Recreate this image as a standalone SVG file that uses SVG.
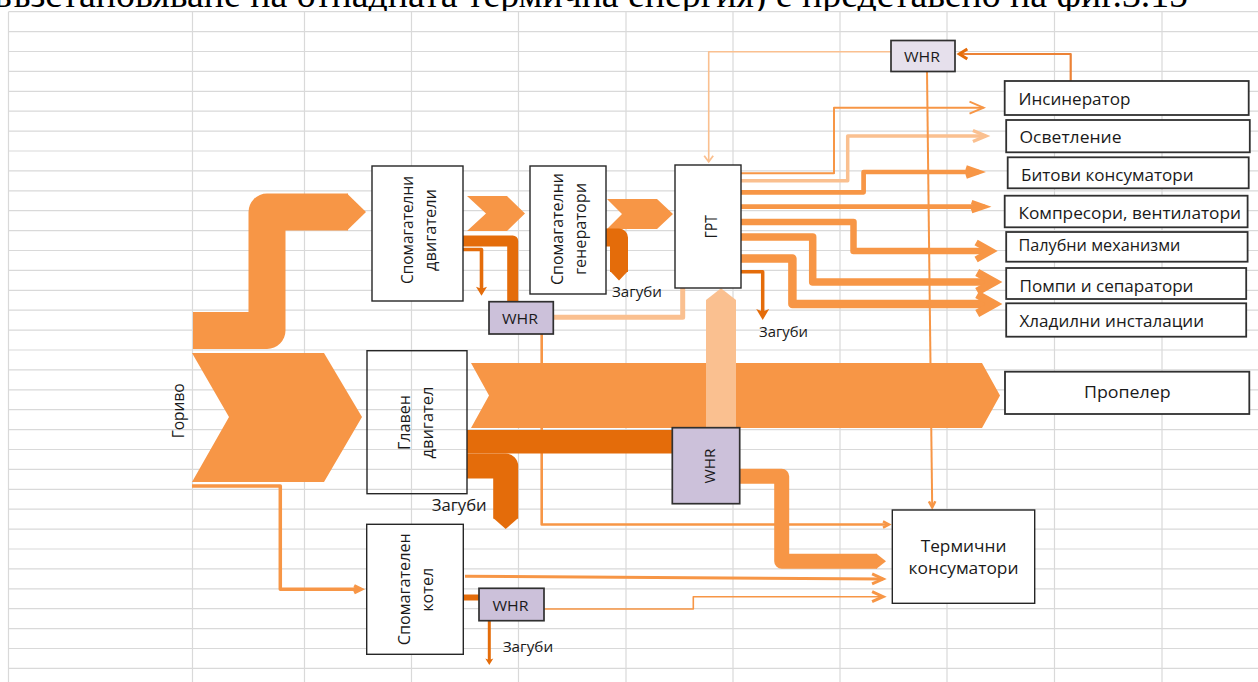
<svg xmlns="http://www.w3.org/2000/svg" width="1258" height="682" viewBox="0 0 1258 682">
<defs>
<style>
.grid{fill:none;stroke:#D9D9D9;stroke-width:1.2}
.box{fill:#FFFFFF;stroke:#262626;stroke-width:1.4}
.rbox{fill:#FFFFFF;stroke:#303030;stroke-width:1.8}
.whr{fill:#CCC1DA;stroke:#303030;stroke-width:1.7}
.lbl{font-family:'Open Sans','Noto Sans','DejaVu Sans',sans-serif;fill:#1A1A1A}
.s16{font-size:16px}
.s17{font-size:17px}
.s15{font-size:15px}
.fo{fill:#F79646}
.fd{fill:#E46C0A}
.fl{fill:#FAC090}
.lo{fill:none;stroke:#F79646;stroke-linejoin:round}
.ld{fill:none;stroke:#E46C0A;stroke-linejoin:round}
.ll{fill:none;stroke:#FAC090;stroke-linejoin:round}
</style>
<marker id="vO2" markerUnits="userSpaceOnUse" viewBox="-30 -20 40 40" markerWidth="40" markerHeight="40" refX="0" refY="0" orient="auto" overflow="visible"><path d="M-14,-6 L0,0 L-14,6" fill="none" stroke="#F79646" stroke-width="2"/></marker>
<marker id="vL3" markerUnits="userSpaceOnUse" viewBox="-30 -20 40 40" markerWidth="40" markerHeight="40" refX="0" refY="0" orient="auto" overflow="visible"><path d="M-13,-5.5 L0,0 L-13,5.5" fill="none" stroke="#FAC090" stroke-width="3.5"/></marker>
<marker id="vO5" markerUnits="userSpaceOnUse" viewBox="-30 -20 40 40" markerWidth="40" markerHeight="40" refX="0" refY="0" orient="auto" overflow="visible"><path d="M-13,-4.5 L0,0 L-13,4.5" fill="none" stroke="#F79646" stroke-width="4.5"/></marker>
<marker id="vO7" markerUnits="userSpaceOnUse" viewBox="-30 -20 40 40" markerWidth="40" markerHeight="40" refX="0" refY="0" orient="auto" overflow="visible"><path d="M-15,-8.5 L0,0 L-15,8.5" fill="none" stroke="#F79646" stroke-width="6.5"/></marker>
<marker id="vO8" markerUnits="userSpaceOnUse" viewBox="-30 -20 40 40" markerWidth="40" markerHeight="40" refX="0" refY="0" orient="auto" overflow="visible"><path d="M-17,-9.5 L0,0 L-17,9.5" fill="none" stroke="#F79646" stroke-width="8"/></marker>
<marker id="vO3" markerUnits="userSpaceOnUse" viewBox="-30 -20 40 40" markerWidth="40" markerHeight="40" refX="0" refY="0" orient="auto" overflow="visible"><path d="M-11,-5 L0,0 L-11,5" fill="none" stroke="#F79646" stroke-width="3"/></marker>
<marker id="vOf" markerUnits="userSpaceOnUse" viewBox="-30 -20 40 40" markerWidth="40" markerHeight="40" refX="0" refY="0" orient="auto" overflow="visible"><path d="M-7,-3.5 L0,0 L-7,3.5" fill="none" stroke="#F79646" stroke-width="3.5"/></marker>
<marker id="vOs" markerUnits="userSpaceOnUse" viewBox="-30 -20 40 40" markerWidth="40" markerHeight="40" refX="0" refY="0" orient="auto" overflow="visible"><path d="M-6,-3.2 L0,0 L-6,3.2" fill="none" stroke="#F79646" stroke-width="2.5"/></marker>
<marker id="vL2" markerUnits="userSpaceOnUse" viewBox="-30 -20 40 40" markerWidth="40" markerHeight="40" refX="0" refY="0" orient="auto" overflow="visible"><path d="M-6,-4.5 L0,0 L-6,4.5" fill="none" stroke="#FAC090" stroke-width="1.8"/></marker>
<marker id="vD" markerUnits="userSpaceOnUse" viewBox="-30 -20 40 40" markerWidth="40" markerHeight="40" refX="0" refY="0" orient="auto" overflow="visible"><path d="M-8,-5 L0,0 L-8,5" fill="none" stroke="#E46C0A" stroke-width="3"/></marker>
<marker id="tD1" markerUnits="userSpaceOnUse" viewBox="-30 -20 40 40" markerWidth="40" markerHeight="40" refX="0" refY="0" orient="auto" overflow="visible"><path d="M6,0 L-5,-6.5 L-2.5,0 L-5,6.5 Z" fill="#E46C0A"/></marker>
<marker id="tD2" markerUnits="userSpaceOnUse" viewBox="-30 -20 40 40" markerWidth="40" markerHeight="40" refX="0" refY="0" orient="auto" overflow="visible"><path d="M5,0 L-4,-5.5 L-2,0 L-4,5.5 Z" fill="#E46C0A"/></marker>
<marker id="tD3" markerUnits="userSpaceOnUse" viewBox="-30 -20 40 40" markerWidth="40" markerHeight="40" refX="0" refY="0" orient="auto" overflow="visible"><path d="M3.5,0 L-3,-4 L-1.5,0 L-3,4 Z" fill="#E46C0A"/></marker>
</defs>

<rect x="0" y="0" width="1258" height="682" fill="#FFFFFF"/>
<text x="-6" y="7.3" font-family="'Liberation Serif','Times New Roman',serif" font-size="37" fill="#000000" textLength="1194" lengthAdjust="spacingAndGlyphs">възстановяване на отпадната термична енергия) е представено на фиг.3.15</text>
<rect x="0" y="11" width="1258" height="671" fill="#FFFFFF"/>

<g id="grid" class="grid">
<path d="M8.5,11.7V682M192.5,11.7V682M304.5,11.7V682M411.5,11.7V682M518.5,11.7V682M626,11.7V682M733,11.7V682M840,11.7V682M947,11.7V682M1054.5,11.7V682M1162,11.7V682"/>
<path d="M8.5,11.7H1258M8.5,31.6H1258M8.5,51.5H1258M8.5,71.4H1258M8.5,91.3H1258M8.5,111.2H1258M8.5,131.1H1258M8.5,151H1258M8.5,170.9H1258M8.5,190.8H1258M8.5,210.7H1258M8.5,230.6H1258M8.5,250.5H1258M8.5,270.4H1258M8.5,290.3H1258M8.5,310.2H1258M8.5,330.1H1258M8.5,350H1258M8.5,369.9H1258M8.5,389.8H1258M8.5,409.7H1258M8.5,429.6H1258M8.5,449.5H1258M8.5,469.4H1258M8.5,489.3H1258M8.5,509.2H1258M8.5,529.1H1258M8.5,549H1258M8.5,568.9H1258M8.5,588.8H1258M8.5,608.7H1258M8.5,628.6H1258M8.5,648.5H1258M8.5,668.4H1258"/>
</g>

<g id="connectors">
<!-- fuel inflow -->
<polygon class="fo" points="192,353 324,353 362,417 324,482 192,482 229,417"/>
<path class="lo" stroke-width="37" d="M193,330.5 H267 V212 H348"/>
<polygon class="fo" points="347,193.5 366,212 347,230.5"/>
<!-- aux engines to generators, generators to GRT -->
<polygon class="fo" points="467,196 507,196 525,213.5 507,231 467,231 486,213.5"/>
<polygon class="fo" points="607,199 657,199 673,214 657,229 607,229 622,214"/>
<!-- aux engine losses -->
<path class="ld" stroke-width="11" d="M463,241 H512.7 V302"/>
<path class="ld" stroke-width="3.6" d="M463,249.5 H481.5 V290.7" marker-end="url(#tD2)"/>
<!-- generator losses -->
<path class="ld" stroke-width="18" d="M605,237.5 H619 V272"/>
<polygon class="fd" points="610,271 628,271 619,280.5"/>
<!-- GRT outputs -->
<path class="lo" stroke-width="2" d="M741,173.3 H834 V107.7 H983.5" marker-end="url(#vO2)"/>
<path class="ll" stroke-width="3.5" d="M741,180.7 H847.7 V136 H985.9" marker-end="url(#vL3)"/>
<path class="lo" stroke-width="4.7" d="M741,192.3 H863.6 V172 H979.1" marker-end="url(#vO5)"/>
<path class="lo" stroke-width="4.7" d="M741,206.7 H984.6" marker-end="url(#vO5)"/>
<path class="lo" stroke-width="6.5" d="M741,222 H853.5 V251 H991.1" marker-end="url(#vO7)"/>
<path class="lo" stroke-width="7.5" d="M741,237 H812.7 V282 H994.2" marker-end="url(#vO8)"/>
<path class="lo" stroke-width="8.5" d="M741,258.5 H792.4 V304 H994.2" marker-end="url(#vO8)"/>
<path class="ld" stroke-width="3.5" d="M741,271.7 H762.7 V314" marker-end="url(#tD1)"/>
<!-- top WHR links -->
<path fill="none" stroke="#EC8236" stroke-width="2.2" stroke-linejoin="round" d="M1070.7,81 V54 H959.3" marker-end="url(#vD)"/>
<path class="ll" stroke-width="1.6" d="M891,51.7 H708.7 V161.8" marker-end="url(#vL2)"/>
<path class="lo" stroke-width="2" d="M927,71.3 L932.2,507.3" marker-end="url(#vOs)"/>
<!-- middle WHR links -->
<path class="lo" stroke-width="2.6" d="M541.7,334 V524.5 H889" marker-end="url(#vOs)"/>
<path class="ll" stroke-width="5" d="M553,317.3 H682.7 V288"/>
<!-- main engine -->
<polygon class="fo" points="471,363 982,363 1000,395.5 982,428 471,428 489,395.5"/>
<rect class="fd" x="467" y="430" width="206" height="23.5"/>
<path class="ld" stroke-width="25" d="M467,466 H505.7 V518.5"/>
<polygon class="fd" points="493.2,518 505.7,529 518.2,518"/>
<polygon class="fl" points="706,300 721,288.3 736,300 736,428 706,428"/>
<path class="lo" stroke-width="15" d="M740,476.3 H781.7 V561.2 H877"/>
<polygon class="fo" points="876.5,553.7 886,561.2 876.5,568.7"/>
<!-- boiler -->
<path class="lo" stroke-width="3.5" d="M192,486 H280.3 V589.3 H361.1" marker-end="url(#vOf)"/>
<path class="lo" stroke-width="3" d="M465,576.3 L883.1,579" marker-end="url(#vO3)"/>
<path class="ld" stroke-width="6" d="M463,597.5 H479"/>
<path class="lo" stroke-width="1.6" d="M544,609 H693.3 V596.7 H883.1" marker-end="url(#vO3)"/>
<path class="ld" stroke-width="3" d="M489.3,620.7 V661.5" marker-end="url(#tD3)"/>
</g>

<g id="loss-labels" class="lbl s15">
<text x="612" y="297" textLength="50" lengthAdjust="spacingAndGlyphs">Загуби</text>
<text x="759" y="337" textLength="49" lengthAdjust="spacingAndGlyphs">Загуби</text>
<text x="431.7" y="510.5" font-size="16" textLength="55" lengthAdjust="spacingAndGlyphs">Загуби</text>
<text x="502.7" y="652" textLength="50.5" lengthAdjust="spacingAndGlyphs">Загуби</text>
</g>

<g id="fuel" class="lbl s16">
<text transform="translate(184.3,410.8) rotate(-90)" text-anchor="middle" textLength="55" lengthAdjust="spacingAndGlyphs">Гориво</text>
</g>

<g id="aux-engines">
<rect class="box" x="372" y="166" width="91" height="135"/>
<g class="lbl s16" text-anchor="middle">
<text transform="translate(413,230) rotate(-90)" textLength="108" lengthAdjust="spacingAndGlyphs">Спомагателни</text>
<text transform="translate(436,230) rotate(-90)" textLength="82" lengthAdjust="spacingAndGlyphs">двигатели</text>
</g>
</g>

<g id="aux-generators">
<rect class="box" x="530" y="166" width="76" height="128"/>
<g class="lbl s16" text-anchor="middle">
<text transform="translate(563,229) rotate(-90)" textLength="112" lengthAdjust="spacingAndGlyphs">Спомагателни</text>
<text transform="translate(586,229) rotate(-90)" textLength="92" lengthAdjust="spacingAndGlyphs">генератори</text>
</g>
</g>

<g id="grt">
<rect class="box" x="675" y="165" width="66" height="123"/>
<text class="lbl s16" text-anchor="middle" transform="translate(716.7,226.7) rotate(-90)" textLength="23" lengthAdjust="spacingAndGlyphs">ГРТ</text>
</g>

<g id="main-engine">
<rect x="367" y="350.7" width="100" height="143" fill="none" stroke="#262626" stroke-width="1.4"/>
<g class="lbl s16" text-anchor="middle">
<text transform="translate(410,422.5) rotate(-90)" textLength="55" lengthAdjust="spacingAndGlyphs">Главен</text>
<text transform="translate(433,422.5) rotate(-90)" textLength="72" lengthAdjust="spacingAndGlyphs">двигател</text>
</g>
</g>

<g id="aux-boiler">
<rect class="box" x="366.7" y="524.3" width="96.6" height="130"/>
<g class="lbl s16" text-anchor="middle">
<text transform="translate(410,589.3) rotate(-90)" textLength="112" lengthAdjust="spacingAndGlyphs">Спомагателен</text>
<text transform="translate(433,589.8) rotate(-90)" textLength="44" lengthAdjust="spacingAndGlyphs">котел</text>
</g>
</g>

<g id="whr-top">
<rect x="891" y="40.5" width="64" height="31" fill="#E6E0EC" stroke="#303030" stroke-width="1.7"/>
<text class="lbl s15" x="922" y="62.3" text-anchor="middle" textLength="36" lengthAdjust="spacingAndGlyphs">WHR</text>
</g>

<g id="whr-aux">
<rect class="whr" x="489" y="301.7" width="64.3" height="32.3"/>
<text class="lbl s15" x="520" y="324" text-anchor="middle" textLength="36" lengthAdjust="spacingAndGlyphs">WHR</text>
</g>

<g id="whr-main">
<rect class="whr" x="672.3" y="427.7" width="67.4" height="76"/>
<text class="lbl s15" text-anchor="middle" transform="translate(715,466) rotate(-90)" textLength="35" lengthAdjust="spacingAndGlyphs">WHR</text>
</g>

<g id="whr-boiler">
<rect class="whr" x="479" y="588.3" width="65" height="32.4"/>
<text class="lbl s15" x="510.5" y="610.7" text-anchor="middle" textLength="36" lengthAdjust="spacingAndGlyphs">WHR</text>
</g>

<g id="incinerator">
<rect class="rbox" x="1004.7" y="81" width="244" height="34"/>
<text class="lbl s17" x="1018.4" y="105" textLength="112" lengthAdjust="spacingAndGlyphs">Инсинератор</text>
</g>
<g id="lighting">
<rect class="rbox" x="1006.2" y="120" width="243.6" height="32.3"/>
<text class="lbl s17" x="1019.5" y="143" textLength="102" lengthAdjust="spacingAndGlyphs">Осветление</text>
</g>
<g id="domestic">
<rect class="rbox" x="1007.7" y="157.3" width="241" height="31"/>
<text class="lbl s17" x="1021" y="180.7" textLength="172.5" lengthAdjust="spacingAndGlyphs">Битови консуматори</text>
</g>
<g id="compressors">
<rect class="rbox" x="1004.7" y="195.7" width="242.9" height="31.6"/>
<text class="lbl s17" x="1018.4" y="218.5" textLength="222.6" lengthAdjust="spacingAndGlyphs">Компресори, вентилатори</text>
</g>
<g id="deck">
<rect class="rbox" x="1006.2" y="232" width="241.4" height="29.7"/>
<text class="lbl s17" x="1018.4" y="250.7" textLength="162" lengthAdjust="spacingAndGlyphs">Палубни механизми</text>
</g>
<g id="pumps">
<rect class="rbox" x="1006.2" y="268" width="240" height="31"/>
<text class="lbl s17" x="1019.5" y="291.7" textLength="174" lengthAdjust="spacingAndGlyphs">Помпи и сепаратори</text>
</g>
<g id="refrigeration">
<rect class="rbox" x="1006.2" y="303.3" width="240" height="33.4"/>
<text class="lbl s17" x="1019.5" y="326.7" textLength="184.5" lengthAdjust="spacingAndGlyphs">Хладилни инсталации</text>
</g>

<g id="propeller">
<rect class="rbox" x="1005" y="371.7" width="244.3" height="42.3"/>
<text class="lbl s17" x="1127.3" y="398.3" text-anchor="middle" textLength="86.7" lengthAdjust="spacingAndGlyphs">Пропелер</text>
</g>

<g id="thermal-consumers">
<rect class="box" x="892.3" y="510" width="142.4" height="93.3"/>
<g class="lbl s17" text-anchor="middle">
<text x="963.5" y="552.3" textLength="85.7" lengthAdjust="spacingAndGlyphs">Термични</text>
<text x="963.5" y="574" textLength="110" lengthAdjust="spacingAndGlyphs">консуматори</text>
</g>
</g>
</svg>
